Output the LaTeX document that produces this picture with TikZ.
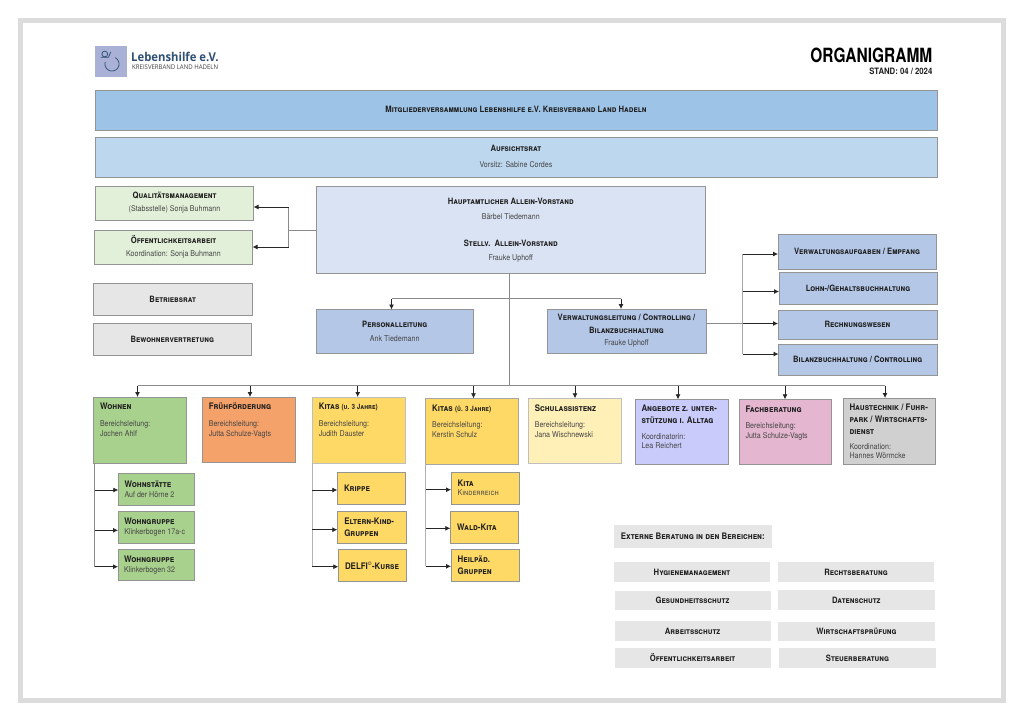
\documentclass[tikz,border=0pt]{standalone}
\usepackage{fontspec}
\usetikzlibrary{arrows.meta,calc}
\setmainfont{TeX Gyre Heros}
\newfontfamily\nar[FakeStretch=0.88]{TeX Gyre Heros}
\newfontfamily\nrr[FakeStretch=0.79]{TeX Gyre Heros}
\newfontfamily\logof[FakeStretch=0.93]{Open Sans}
\newcommand{\ttlf}{\nar\bfseries\scshape\fontsize{8.7}{11}\selectfont\color{txtd}}
\newcommand{\ttlg}{\nar\bfseries\scshape\fontsize{9}{12}\selectfont\color{txtd}}
\newcommand{\bdyf}{\nar\fontsize{8.05}{9.6}\selectfont\color{txtl}}
\newcommand{\ttl}[1]{{\ttlg #1\par}}
\newcommand{\bdy}[1]{{\bdyf #1\par}}
\definecolor{txtd}{HTML}{1F1F1F}
\definecolor{txtl}{HTML}{454545}
\definecolor{cMit}{HTML}{9DC3E6}
\definecolor{cAuf}{HTML}{BDD7EE}
\definecolor{cGrL}{HTML}{E2F0D9}
\definecolor{cVor}{HTML}{DAE3F3}
\definecolor{cGy}{HTML}{E7E6E6}
\definecolor{cBl}{HTML}{B4C7E7}
\definecolor{cGr}{HTML}{A9D18E}
\definecolor{cOr}{HTML}{F4A16A}
\definecolor{cYe}{HTML}{FFD966}
\definecolor{cYl}{HTML}{FFF0B8}
\definecolor{cVi}{HTML}{C9CBFB}
\definecolor{cPi}{HTML}{E4B6D0}
\definecolor{cHa}{HTML}{D0D0D0}
\definecolor{cFrame}{HTML}{DCDCDC}
\definecolor{cLine}{HTML}{8A8A8A}
\definecolor{cLogo}{HTML}{A9B2D6}
\definecolor{cNavy}{HTML}{2F4F75}
\tikzset{
  boxbase/.style={draw=#1,line width=.8pt,inner sep=0pt,outer sep=0pt,align=center},
  boxbase/.default={black!42},
  flat/.style={draw=none,inner sep=0pt,outer sep=0pt,align=center},
  conn/.style={draw=cLine,line width=.8pt},
  arr/.style={draw=black!85,line width=.8pt,-{Latex[length=5pt,width=5pt]}},
}
% \bx{name}{x1}{y1}{x2}{y2}{style}{centred text}
\newcommand{\bx}[7]{%
  \pgfmathsetmacro{\bw}{#4-#2}\pgfmathsetmacro{\bh}{#5-#3}%
  \pgfmathsetmacro{\bcx}{(#2+#4)/2}\pgfmathsetmacro{\bcy}{(#3+#5)/2}%
  \node[minimum width=\bw pt,minimum height=\bh pt,#6] (#1) at (\bcx,\bcy) {#7};}
% \lx{name}{x1}{y1}{x2}{y2}{style}{top gap}{left-aligned content}
\newcommand{\lx}[8]{%
  \pgfmathsetmacro{\bw}{#4-#2}\pgfmathsetmacro{\bh}{#5-#3}%
  \pgfmathsetmacro{\bcx}{(#2+#4)/2}\pgfmathsetmacro{\bcy}{(#3+#5)/2}%
  \pgfmathsetmacro{\tw}{#4-#2-13}%
  \node[minimum width=\bw pt,minimum height=\bh pt,#6] (#1) at (\bcx,\bcy)
   {\parbox[c][\bh pt][t]{\tw pt}{\raggedright\parindent=0pt\vspace*{#7pt}#8}};}
\begin{document}
\begin{tikzpicture}[x=1pt,y=-1pt]
\useasboundingbox (0,0) rectangle (1024,721);
\fill[white] (0,0) rectangle (1024,721);
\draw[cFrame,line width=5pt] (20.5,20.5) rectangle (1003.5,700.5);

% logo
\fill[cLogo] (95,45.7) rectangle (126.7,77.3);
\begin{scope}[cNavy,line width=.75pt]
  \draw (104.8,54) circle (2.9);
  \draw (100.7,57.2) -- (108.5,57.2) -- (110.8,52);
  \draw plot[domain=-65:195,samples=40,smooth] ({112+7*cos(\x)},{64+7*sin(\x)});
\end{scope}
\node[anchor=west,inner sep=0pt,text=cNavy,font=\logof\bfseries\fontsize{12.15}{14}\selectfont] (lgt) at (131,57.2) {Lebenshilfe e.V.};
\node[anchor=west,inner sep=0pt,text=black!75,font=\logof\fontsize{6.5}{7}\selectfont] (lgs) at (132,67.3) {KREISVERBAND LAND HADELN};

% title
\node[anchor=east,inner sep=0pt,text=black,font=\nrr\bfseries\fontsize{19.6}{22}\selectfont] (org) at (932.5,55) {ORGANIGRAMM};
\node[anchor=east,inner sep=0pt,text=txtd,font=\nar\bfseries\fontsize{8.8}{10}\selectfont] (std) at (932.5,71) {STAND: 04 / 2024};

% top
\bx{mit}{95}{90.5}{937}{130.5}{boxbase,fill=cMit}{\raisebox{2.5pt}{\ttlf Mitgliederversammlung Lebenshilfe e.V. Kreisverband Land Hadeln}}
\bx{auf}{95}{137}{937}{177}{boxbase,fill=cAuf}{\raisebox{2pt}{\ttlf Aufsichtsrat}\\[4pt]\raisebox{2pt}{\bdyf Vorsitz: Sabine Cordes}}

% stab
\bx{qua}{95.5}{186}{253.5}{220}{boxbase,fill=cGrL}{{\ttlf Qualitätsmanagement}\\[1pt]{\bdyf (Stabsstelle) Sonja Buhmann}}
\bx{oef}{94.5}{230.5}{252.5}{264}{boxbase,fill=cGrL}{{\ttlf Öffentlichkeitsarbeit}\\[1pt]{\bdyf Koordination: Sonja Buhmann}}
\bx{vor}{316}{186}{705.5}{273}{boxbase,fill=cVor}{\rule{0pt}{1pt}\\[-5pt]{\ttlf Hauptamtlicher Allein-Vorstand}\\[2.5pt]{\bdyf Bärbel Tiedemann}\\[15pt]{\ttlf Stellv.\ \ Allein-Vorstand}\\[2.5pt]{\bdyf Frauke Uphoff}}
\bx{bet}{93.5}{283}{252}{315.5}{boxbase,fill=cGy}{\ttlf Betriebsrat}
\bx{bew}{93.5}{323.5}{251}{355.5}{boxbase,fill=cGy}{\ttlf Bewohnervertretung}

% second level
\bx{per}{316}{309.5}{473.5}{353.5}{boxbase,fill=cBl}{{\ttlf Personalleitung}\\[1.5pt]{\bdyf Ank Tiedemann}}
\bx{ver}{547}{309}{706}{353}{boxbase,fill=cBl}{{\ttlf Verwaltungsleitung / Controlling /}\\[.5pt]{\ttlf Bilanzbuchhaltung}\\[.5pt]{\bdyf Frauke Uphoff}}

% right column
\bx{vau}{778}{234}{936}{269}{boxbase,fill=cBl}{\ttlf Verwaltungsaufgaben / Empfang}
\bx{loh}{779}{272}{937}{304}{boxbase,fill=cBl}{\raisebox{-.7pt}{\ttlf Lohn-/Gehaltsbuchhaltung}}
\bx{rec}{778}{310}{937}{339.5}{boxbase,fill=cBl}{\raisebox{-1.3pt}{\ttlf Rechnungswesen}}
\bx{bil}{778.5}{344}{937}{375}{boxbase,fill=cBl}{\raisebox{-.7pt}{\ttlf Bilanzbuchhaltung / Controlling}}

% departments
\lx{woh}{93.5}{397}{186.7}{463}{boxbase,fill=cGr}{6.3}{\ttl{Wohnen}\vspace{7pt}\bdy{Bereichsleitung:\\Jochen Ahlf}}
\lx{fru}{202.3}{397}{295}{462.5}{boxbase,fill=cOr}{6.3}{\ttl{Frühförderung}\vspace{7pt}\bdy{Bereichsleitung:\\Jutta Schulze-Vagts}}
\lx{kia}{312.3}{397}{405.7}{463}{boxbase=black!25,fill=cYe}{6.3}{{\ttlg Kitas {\fontsize{7.2}{11}\selectfont (u. 3 Jahre)}\par}\vspace{7pt}\bdy{Bereichsleitung:\\Judith Dauster}}
\lx{kib}{425.7}{398.3}{518.7}{464}{boxbase=black!35,fill=cYe}{6.3}{{\ttlg Kitas {\fontsize{7.2}{11}\selectfont (ü. 3 Jahre)}\par}\vspace{7pt}\bdy{Bereichsleitung:\\Kerstin Schulz}}
\lx{sch}{528.3}{398.3}{621.7}{463.7}{boxbase=black!25,fill=cYl}{6.3}{\ttl{Schulassistenz}\vspace{7pt}\bdy{Bereichsleitung:\\Jana Wischnewski}}
\lx{ang}{635}{399.3}{728.7}{464.7}{boxbase,fill=cVi}{5.5}{\ttl{Angebote z. unter-\\stützung i. Alltag}\vspace{6.2pt}\bdy{Koordinatorin:\\Lea Reichert}}
\lx{fac}{739}{399.3}{831.7}{464.3}{boxbase,fill=cPi}{6.3}{\ttl{Fachberatung}\vspace{7pt}\bdy{Bereichsleitung:\\Jutta Schulze-Vagts}}
\lx{hau}{843}{398}{935.7}{464.3}{boxbase,fill=cHa}{6}{\ttl{Haustechnik / Fuhr-\\park / Wirtschafts-\\dienst}\vspace{5pt}\bdy{Koordination:\\Hannes Wörmcke}}

% sub boxes
\bx{wst}{118.3}{473.3}{194.7}{505.3}{boxbase,fill=cGr}{\begin{minipage}{64pt}\raggedright\ttl{Wohnstätte}\bdy{Auf der Hörne 2}\end{minipage}}
\bx{wga}{118}{511}{194.5}{543.7}{boxbase,fill=cGr}{\begin{minipage}{64pt}\raggedright\ttl{Wohngruppe}\bdy{Klinkerbogen 17a-c}\end{minipage}}
\bx{wgb}{118}{549}{194}{580.7}{boxbase,fill=cGr}{\begin{minipage}{64pt}\raggedright\ttl{Wohngruppe}\bdy{Klinkerbogen 32}\end{minipage}}
\bx{kri}{337.3}{472.7}{405.7}{504.7}{boxbase,fill=cYe}{\begin{minipage}{55pt}\raggedright\ttl{Krippe}\end{minipage}}
\bx{elt}{337.3}{511.3}{406.3}{543.3}{boxbase,fill=cYe}{\begin{minipage}{55pt}\raggedright\ttl{Eltern-Kind-\\Gruppen}\end{minipage}}
\bx{del}{338.3}{549.3}{406.7}{581.7}{boxbase,fill=cYe}{\begin{minipage}{55pt}\raggedright\ttl{DELFI\textsuperscript{\normalfont\fontsize{5}{5}\selectfont ©}-Kurse}\end{minipage}}
\bx{kit}{451}{472.3}{519.3}{504}{boxbase,fill=cYe}{\begin{minipage}{55pt}\raggedright\ttl{Kita}\vspace{-.5pt}\bdy{\textsc{Kinderreich}}\end{minipage}}
\bx{wal}{450.3}{511.7}{518.7}{543.7}{boxbase,fill=cYe}{\begin{minipage}{55pt}\raggedright\ttl{Wald-Kita}\end{minipage}}
\bx{hei}{451}{549.3}{519.3}{581.7}{boxbase,fill=cYe}{\begin{minipage}{55pt}\raggedright\ttl{Heilpäd.\\Gruppen}\end{minipage}}

% external
\bx{ext}{614}{525}{771.7}{548.3}{flat,fill=cGy}{{\ttlf\fontsize{9}{11}\selectfont Externe Beratung in den Bereichen:}}
\bx{hyg}{614}{562.3}{770}{582}{flat,fill=cGy}{\ttlf Hygienemanagement}
\bx{ges}{614.5}{590.7}{770.5}{610}{flat,fill=cGy}{\ttlf Gesundheitsschutz}
\bx{arb}{614.5}{621.3}{770.5}{641}{flat,fill=cGy}{\ttlf Arbeitsschutz}
\bx{ofa}{614.5}{648}{770.5}{667.7}{flat,fill=cGy}{\ttlf Öffentlichkeitsarbeit}
\bx{rbe}{778}{562.3}{934}{582}{flat,fill=cGy}{\ttlf Rechtsberatung}
\bx{dat}{778}{590.3}{934.7}{610}{flat,fill=cGy}{\ttlf Datenschutz}
\bx{wir}{778.3}{622}{934.7}{641}{flat,fill=cGy}{\ttlf Wirtschaftsprüfung}
\bx{ste}{779.3}{648}{935.7}{667.7}{flat,fill=cGy}{\ttlf Steuerberatung}

% connectors: Vorstand to staff units
\coordinate (sj) at (288.5,230);
\coordinate (sq) at (288.5,207);
\coordinate (so) at (288.5,247);
\draw[conn] (vor.west |- sj) -- (sj);
\draw[conn] (sq) -- (so);
\draw[arr] (sq) -- (qua.east |- sq);
\draw[arr] (so) -- (oef.east |- so);

% Vorstand downwards
\coordinate (tr) at (509.5,273);
\coordinate (bj) at (509.5,385.5);
\coordinate (pj) at (391.5,298.5);
\coordinate (vj) at (621,298.5);
\draw[conn] (tr) -- (bj);
\draw[conn] (pj) -- (vj);
\draw[arr] (pj) -- (pj |- per.north);
\draw[arr] (vj) -- (vj |- ver.north);

% Verwaltung to right column
\coordinate (rj) at (742.7,323.5);
\coordinate (ra) at (742.7,254);
\coordinate (rb) at (742.7,291.5);
\coordinate (rc) at (742.7,354);
\draw[conn] (ver.east |- rj) -- (rj);
\draw[conn,black!35,line width=1pt] (ra) -- (rc);
\draw[arr] (ra) -- (vau.west |- ra);
\draw[arr] (rb) -- (loh.west |- rb);
\draw[arr] (rj) -- (rec.west |- rj);
\draw[arr] (rc) -- (bil.west |- rc);

% bus to departments
\coordinate (b1) at (137.5,385.5);
\coordinate (b2) at (250,385.5);
\coordinate (b3) at (357.7,385.5);
\coordinate (b4) at (473.5,385.5);
\coordinate (b5) at (575,385.5);
\coordinate (b6) at (678,385.5);
\coordinate (b7) at (785,385.5);
\coordinate (b8) at (885,385.5);
\draw[conn] (b1) -- (b8);
\draw[arr] (b1) -- (b1 |- woh.north);
\draw[arr] (b2) -- (b2 |- fru.north);
\draw[arr] (b3) -- (b3 |- kia.north);
\draw[arr] (b4) -- (b4 |- kib.north);
\draw[arr] (b5) -- (b5 |- sch.north);
\draw[arr] (b6) -- (b6 |- ang.north);
\draw[arr] (b7) -- (b7 |- fac.north);
\draw[arr] (b8) -- (b8 |- hau.north);

% Wohnen branch
\coordinate (wa) at (94.5,490);
\coordinate (wb) at (94.5,530.3);
\coordinate (wc) at (94.5,566.7);
\draw[conn] (wa |- woh.south) -- (wc);
\draw[arr] (wa) -- (wst.west |- wa);
\draw[arr] (wb) -- (wga.west |- wb);
\draw[arr] (wc) -- (wgb.west |- wc);

% Kitas u3 branch
\coordinate (ka) at (312.3,490);
\coordinate (kb) at (312.3,529.7);
\coordinate (kc) at (312.3,566.7);
\draw[conn,black!30,line width=1.1pt] (ka |- kia.south) -- (kc);
\draw[arr] (ka) -- (kri.west |- ka);
\draw[arr] (kb) -- (elt.west |- kb);
\draw[arr] (kc) -- (del.west |- kc);

% Kitas ue3 branch
\coordinate (la) at (425.9,489.7);
\coordinate (lb) at (425.9,528.3);
\coordinate (lc) at (425.9,566.3);
\draw[conn,black!30,line width=1.1pt] (la |- kib.south) -- (lc);
\draw[arr] (la) -- (kit.west |- la);
\draw[arr] (lb) -- (wal.west |- lb);
\draw[arr] (lc) -- (hei.west |- lc);
\end{tikzpicture}
\end{document}
